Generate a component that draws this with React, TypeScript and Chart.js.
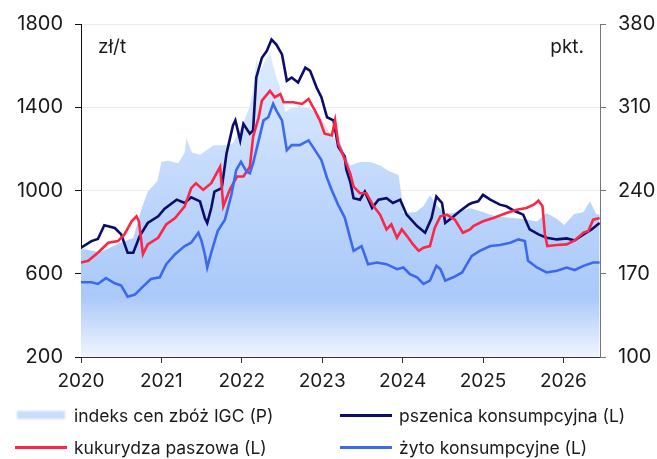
import React, { useEffect, useRef } from "react";
import { Chart, registerables } from "chart.js";

Chart.register(...registerables);

const yearTicks = [2020, 2021, 2022, 2023, 2024, 2025, 2026];
const leftTicks = [200, 600, 1000, 1400, 1800];
const rightTicks = [100, 170, 240, 310, 380];

// indeks cen zbóż IGC (P)
const igcDates = [2020.0, 2020.24, 2020.49, 2020.65, 2020.75, 2020.83, 2020.95, 2021.0, 2021.08, 2021.21, 2021.29, 2021.31, 2021.38, 2021.48, 2021.65, 2021.81, 2021.89, 2022.02, 2022.1, 2022.14, 2022.18, 2022.23, 2022.27, 2022.35, 2022.39, 2022.43, 2022.47, 2022.54, 2022.6, 2022.72, 2022.85, 2022.97, 2023.1, 2023.22, 2023.35, 2023.47, 2023.6, 2023.72, 2023.84, 2023.95, 2023.99, 2024.01, 2024.17, 2024.26, 2024.34, 2024.42, 2024.53, 2024.67, 2024.84, 2025.0, 2025.17, 2025.34, 2025.5, 2025.67, 2025.79, 2025.92, 2026.01, 2026.13, 2026.25, 2026.33, 2026.41, 2026.45];
const igcValues = [191, 188, 196, 200, 224, 239, 248, 264, 265, 263, 272, 284, 272, 270, 278, 278, 280, 297, 311, 325, 350, 340, 347, 356, 345, 335, 328, 306, 309, 311, 309, 303, 287, 281, 261, 264, 264, 261, 256, 253, 234, 221, 222, 227, 236, 228, 220, 222, 225, 222, 218, 217, 216, 214, 221, 216, 211, 220, 222, 231, 220, 220];

// pszenica konsumpcyjna (L)
const wheatDates = [2020.0, 2020.13, 2020.21, 2020.29, 2020.42, 2020.5, 2020.58, 2020.65, 2020.73, 2020.83, 2020.96, 2021.04, 2021.19, 2021.29, 2021.37, 2021.48, 2021.54, 2021.57, 2021.62, 2021.66, 2021.75, 2021.81, 2021.89, 2021.92, 2021.98, 2022.02, 2022.1, 2022.14, 2022.18, 2022.25, 2022.31, 2022.37, 2022.43, 2022.5, 2022.56, 2022.62, 2022.7, 2022.79, 2022.85, 2022.93, 2022.99, 2023.06, 2023.14, 2023.2, 2023.28, 2023.3, 2023.35, 2023.39, 2023.47, 2023.53, 2023.62, 2023.7, 2023.8, 2023.88, 2023.97, 2024.05, 2024.18, 2024.28, 2024.36, 2024.42, 2024.49, 2024.53, 2024.61, 2024.71, 2024.82, 2024.86, 2024.94, 2025.0, 2025.09, 2025.21, 2025.29, 2025.4, 2025.5, 2025.58, 2025.69, 2025.79, 2025.92, 2026.04, 2026.14, 2026.25, 2026.35, 2026.45];
const wheatValues = [725, 757, 767, 833, 820, 789, 701, 701, 781, 844, 876, 913, 956, 940, 967, 948, 868, 844, 916, 995, 1011, 1178, 1313, 1337, 1241, 1320, 1273, 1289, 1543, 1638, 1670, 1725, 1701, 1654, 1527, 1543, 1519, 1590, 1575, 1495, 1448, 1352, 1337, 1210, 1162, 1100, 1040, 963, 956, 995, 916, 956, 963, 940, 956, 884, 829, 797, 868, 971, 940, 844, 868, 900, 932, 940, 948, 979, 956, 932, 924, 900, 884, 813, 789, 773, 765, 770, 760, 789, 813, 844];

// kukurydza paszowa (L)
const cornDates = [2020.0, 2020.09, 2020.21, 2020.34, 2020.46, 2020.54, 2020.63, 2020.69, 2020.72, 2020.77, 2020.83, 2020.96, 2021.06, 2021.17, 2021.29, 2021.37, 2021.43, 2021.52, 2021.62, 2021.73, 2021.77, 2021.85, 2021.94, 2022.02, 2022.1, 2022.14, 2022.21, 2022.25, 2022.35, 2022.41, 2022.48, 2022.52, 2022.64, 2022.75, 2022.83, 2022.91, 2022.97, 2023.03, 2023.12, 2023.16, 2023.2, 2023.28, 2023.35, 2023.39, 2023.47, 2023.55, 2023.64, 2023.72, 2023.8, 2023.86, 2023.93, 2023.99, 2024.07, 2024.13, 2024.2, 2024.26, 2024.34, 2024.4, 2024.47, 2024.55, 2024.65, 2024.75, 2024.84, 2024.88, 2025.0, 2025.13, 2025.29, 2025.42, 2025.54, 2025.63, 2025.69, 2025.74, 2025.77, 2025.8, 2025.92, 2026.04, 2026.14, 2026.25, 2026.31, 2026.37, 2026.45];
const cornValues = [654, 662, 701, 749, 757, 789, 852, 876, 852, 694, 741, 773, 837, 868, 924, 1011, 1035, 1003, 1035, 1114, 924, 1003, 1067, 1067, 1114, 1257, 1352, 1432, 1479, 1448, 1463, 1424, 1424, 1416, 1440, 1384, 1337, 1273, 1265, 1337, 1225, 1150, 1080, 1019, 987, 987, 924, 884, 813, 837, 773, 813, 773, 741, 710, 725, 733, 821, 876, 884, 860, 797, 813, 829, 852, 868, 892, 908, 916, 932, 951, 924, 789, 733, 738, 741, 760, 797, 805, 860, 868];

// żyto konsumpcyjne (L)
const ryeDates = [2020.0, 2020.13, 2020.21, 2020.31, 2020.42, 2020.5, 2020.58, 2020.67, 2020.77, 2020.87, 2020.98, 2021.06, 2021.17, 2021.29, 2021.37, 2021.46, 2021.5, 2021.54, 2021.57, 2021.62, 2021.7, 2021.79, 2021.87, 2021.93, 2021.99, 2022.06, 2022.1, 2022.14, 2022.21, 2022.27, 2022.33, 2022.39, 2022.43, 2022.5, 2022.56, 2022.62, 2022.72, 2022.83, 2022.91, 2022.99, 2023.06, 2023.12, 2023.2, 2023.28, 2023.39, 2023.49, 2023.57, 2023.68, 2023.8, 2023.93, 2024.01, 2024.09, 2024.18, 2024.26, 2024.34, 2024.42, 2024.47, 2024.53, 2024.63, 2024.74, 2024.8, 2024.86, 2024.96, 2025.09, 2025.21, 2025.34, 2025.44, 2025.52, 2025.56, 2025.67, 2025.79, 2025.92, 2026.04, 2026.14, 2026.25, 2026.37, 2026.45];
const ryeValues = [559, 559, 551, 579, 554, 543, 490, 500, 538, 575, 583, 646, 694, 733, 749, 797, 757, 694, 630, 701, 805, 860, 979, 1098, 1138, 1090, 1083, 1130, 1241, 1337, 1352, 1416, 1384, 1337, 1194, 1218, 1218, 1241, 1194, 1146, 1060, 1000, 930, 870, 710, 733, 646, 654, 646, 622, 630, 598, 583, 551, 567, 638, 622, 567, 583, 606, 646, 686, 710, 733, 738, 749, 765, 757, 662, 630, 606, 614, 630, 618, 638, 654, 654];

const seriesNames = [
  "indeks cen zbóż IGC (P)",
  "pszenica konsumpcyjna (L)",
  "kukurydza paszowa (L)",
  "żyto konsumpcyjne (L)",
];
const seriesColors = ["#c8ddfb", "#0c0c6c", "#fb2746", "#3b6af0"];

const FONT = "Inter, 'Noto Sans', sans-serif";

const toXY = (xs: number[], ys: number[]) => xs.map((x, i) => ({ x, y: ys[i] }));

const unitLabels = {
  id: "unitLabels",
  afterDraw(chart: any) {
    const { ctx, chartArea } = chart;
    ctx.save();
    ctx.font = `19px ${FONT}`;
    ctx.fillStyle = "#1a1a1a";
    ctx.textBaseline = "middle";
    ctx.textAlign = "left";
    ctx.fillText("zł/t", chartArea.left + 17, 47);
    ctx.textAlign = "right";
    ctx.fillText("pkt.", chartArea.right - 16, 47);
    ctx.restore();
  },
};

export default function App() {
  const ref = useRef<HTMLCanvasElement | null>(null);

  useEffect(() => {
    document.body.style.margin = "0";
    const canvas = ref.current;
    if (!canvas) return;
    const chart = new Chart(canvas, {
      type: "line",
      data: {
        datasets: [
          {
            label: seriesNames[0],
            data: toXY(igcDates, igcValues),
            yAxisID: "yR",
            borderWidth: 0,
            pointRadius: 0,
            fill: "start",
            tension: 0,
            order: 10,
            backgroundColor: (c: any) => {
              const { chart } = c;
              const area = chart.chartArea;
              if (!area) return "#bcd5fb";
              const g = chart.ctx.createLinearGradient(0, area.top, 0, area.bottom);
              g.addColorStop(0, "#e2eeff");
              g.addColorStop(0.3, "#cfe2fd");
              g.addColorStop(0.6, "#b8d2fb");
              g.addColorStop(0.82, "#aac9f9");
              g.addColorStop(1, "#f0f5fe");
              return g;
            },
          },
          {
            label: seriesNames[1],
            data: toXY(wheatDates, wheatValues),
            yAxisID: "yL",
            borderColor: seriesColors[1],
            borderWidth: 2.6,
            pointRadius: 0,
            fill: false,
            order: 3,
          },
          {
            label: seriesNames[2],
            data: toXY(cornDates, cornValues),
            yAxisID: "yL",
            borderColor: seriesColors[2],
            borderWidth: 2.6,
            pointRadius: 0,
            fill: false,
            order: 2,
          },
          {
            label: seriesNames[3],
            data: toXY(ryeDates, ryeValues),
            yAxisID: "yL",
            borderColor: seriesColors[3],
            borderWidth: 2.6,
            pointRadius: 0,
            fill: false,
            order: 1,
          },
        ],
      },
      options: {
        responsive: false,
        animation: false,
        events: [],
        layout: { padding: { top: 21, left: 0, right: 0, bottom: 0 } },
        plugins: { legend: { display: false }, tooltip: { enabled: false } },
        scales: {
          x: {
            type: "linear",
            min: 2020,
            max: 2026.455,
            afterBuildTicks: (s: any) => {
              s.ticks = yearTicks.map((v) => ({ value: v }));
            },
            afterFit: (s: any) => {
              s.height = 102;
            },
            grid: {
              drawOnChartArea: false,
              drawTicks: true,
              tickLength: 6,
              tickColor: "#333",
            },
            border: { color: "#333", width: 1 },
            ticks: {
              color: "#1a1a1a",
              font: { family: FONT, size: 19 },
              padding: 7,
              maxRotation: 0,
              autoSkip: false,
              callback: (v: any) => String(v),
            },
          },
          yL: {
            type: "linear",
            position: "left",
            min: 200,
            max: 1800,
            afterBuildTicks: (s: any) => {
              s.ticks = leftTicks.map((v) => ({ value: v }));
            },
            afterFit: (s: any) => {
              s.width = 81;
            },
            grid: {
              color: "#ececec",
              lineWidth: 1,
              drawTicks: true,
              tickLength: 6,
              tickColor: "#111",
            },
            border: { color: "#111", width: 1 },
            ticks: {
              color: "#1a1a1a",
              font: { family: FONT, size: 20 },
              padding: 12,
              callback: (v: any) => String(v),
            },
          },
          yR: {
            type: "linear",
            position: "right",
            min: 100,
            max: 380,
            afterBuildTicks: (s: any) => {
              s.ticks = rightTicks.map((v) => ({ value: v }));
            },
            afterFit: (s: any) => {
              s.width = 57;
            },
            grid: {
              drawOnChartArea: false,
              drawTicks: true,
              tickLength: 6,
              tickColor: "#777",
            },
            border: { color: "#777", width: 1 },
            ticks: {
              color: "#1a1a1a",
              font: { family: FONT, size: 20 },
              padding: 12,
              callback: (v: any) => String(v),
            },
          },
        },
      },
      plugins: [unitLabels],
    });
    return () => chart.destroy();
  }, []);

  const legendItem = (i: number, left: number, top: number) => (
    <div
      key={i}
      style={{
        position: "absolute",
        left,
        top,
        display: "flex",
        alignItems: "center",
        height: 24,
        fontFamily: FONT,
        fontSize: 17.5,
        color: "#1a1a1a",
        whiteSpace: "nowrap",
      }}
    >
      {i === 0 ? (
        <span
          style={{
            display: "inline-block",
            width: 48,
            height: 8,
            background: seriesColors[0],
            filter: "blur(0.8px)",
            marginRight: 9,
          }}
        />
      ) : (
        <span
          style={{
            display: "inline-block",
            width: 52,
            height: 3,
            background: seriesColors[i],
            marginRight: 7,
          }}
        />
      )}
      {seriesNames[i]}
    </div>
  );

  return (
    <div style={{ position: "absolute", left: 0, top: 0, width: 657, height: 459, background: "#fff" }}>
      <canvas ref={ref} width={657} height={459} style={{ display: "block" }} />
      {legendItem(0, 17, 403)}
      {legendItem(1, 340, 403)}
      {legendItem(2, 15, 435)}
      {legendItem(3, 340, 435)}
    </div>
  );
}
